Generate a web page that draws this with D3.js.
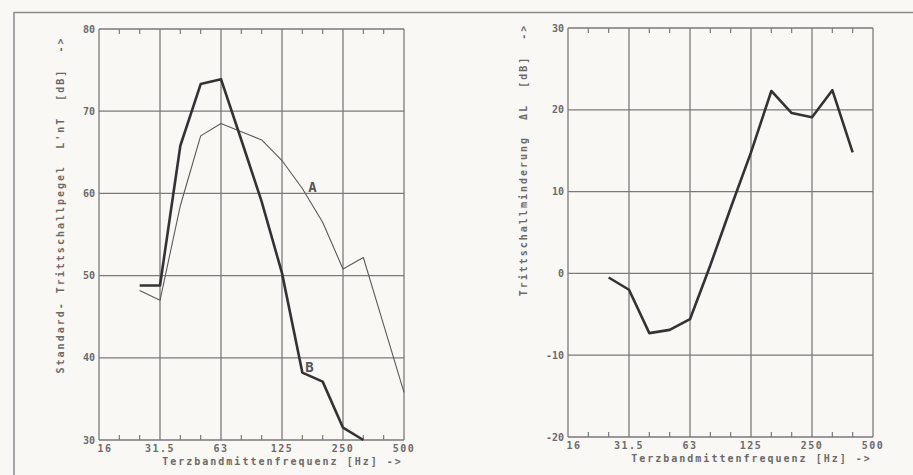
<!DOCTYPE html>
<html>
<head>
<meta charset="utf-8">
<script src="https://cdn.jsdelivr.net/npm/d3@7"></script>
<style>
  html, body { margin: 0; padding: 0; background: #faf8f5; }
  svg { display: block; }
  text { font-family: "DejaVu Sans Mono", monospace; font-weight: bold; fill: #6a6a6a; white-space: pre; }
</style>
</head>
<body>
<svg id="chart" width="913" height="475"></svg>
<script>
// third-octave band centre frequencies (x axis, evenly spaced)
const bands = ['16','20','25','31.5','40','50','63','80','100','125','160','200','250','315','400','500'];
const labelBands = ['16','31.5','63','125','250','500'];

// left panel: standard impact sound level L'nT [dB]
const bandsA = ['25','31.5','40','50','63','80','100','125','160','200','250','315','400','500'];
const levelA = [48.2, 47, 58.5, 67, 68.5, 67.5, 66.5, 64, 60.6, 56.5, 50.8, 52.2, 44, 35.8];
const bandsB = ['25','31.5','40','50','63','80','100','125','160','200','250','315'];
const levelB = [48.8, 48.8, 65.8, 73.3, 73.9, 66.5, 59, 50.3, 38.2, 37.1, 31.5, 30];
const leftTicks = [30, 40, 50, 60, 70, 80];

// right panel: impact sound reduction delta L [dB]
const bandsD = ['25','31.5','40','50','63','80','100','125','160','200','250','315','400'];
const deltaL = [-0.5, -2, -7.3, -6.9, -5.6, 1, 8, 14.8, 22.3, 19.6, 19.1, 22.4, 14.8];
const rightTicks = [-20, -10, 0, 10, 20, 30];

const svg = d3.select('#chart');

// frame of the page
svg.append('line').attr('x1', 14).attr('x2', 913).attr('y1', 12.5).attr('y2', 12.5)
  .attr('stroke', '#8a8a8a').attr('stroke-width', 1.5);
svg.append('line').attr('x1', 14).attr('x2', 14).attr('y1', 12).attr('y2', 475)
  .attr('stroke', '#8a8a8a').attr('stroke-width', 1.5);

function panel(cfg) {
  const x = d3.scalePoint().domain(bands).range([cfg.x0, cfg.x1]);
  const y = d3.scaleLinear().domain(cfg.domain).range([cfg.yb, cfg.yt]);
  const g = svg.append('g');

  // horizontal grid + y labels
  g.selectAll('.hg').data(cfg.ticks).join('line')
    .attr('x1', cfg.x0).attr('x2', cfg.x1)
    .attr('y1', d => y(d)).attr('y2', d => y(d))
    .attr('stroke', '#7a7a7a').attr('stroke-width', 1.3);
  g.selectAll('.yl').data(cfg.ticks).join('text')
    .attr('x', cfg.x0 - 4).attr('y', d => y(d) + 3.5)
    .attr('text-anchor', 'end').attr('font-size', 10)
    .text(d => d);

  // vertical grid at octave bands
  g.selectAll('.vg').data(labelBands).join('line')
    .attr('x1', d => x(d)).attr('x2', d => x(d))
    .attr('y1', cfg.yt).attr('y2', cfg.yb)
    .attr('stroke', '#7a7a7a').attr('stroke-width', 1.3);

  // minor ticks for the other bands, top and bottom
  const minor = bands.filter(b => !labelBands.includes(b));
  g.selectAll('.tt').data(minor).join('line')
    .attr('x1', d => x(d)).attr('x2', d => x(d))
    .attr('y1', cfg.yt).attr('y2', cfg.yt + 5)
    .attr('stroke', '#7a7a7a').attr('stroke-width', 1.2);
  g.selectAll('.tb').data(minor).join('line')
    .attr('x1', d => x(d)).attr('x2', d => x(d))
    .attr('y1', cfg.yb).attr('y2', cfg.yb - 5)
    .attr('stroke', '#7a7a7a').attr('stroke-width', 1.2);

  // x labels
  g.selectAll('.xl').data(labelBands).join('text')
    .attr('x', d => d === '16' ? x(d) + 6 : x(d)).attr('y', cfg.yb + 12)
    .attr('text-anchor', 'middle').attr('font-size', 10).attr('letter-spacing', 1.5)
    .text(d => d);

  g.append('text')
    .attr('x', (cfg.x0 + cfg.x1) / 2 + 31).attr('y', cfg.yb + 25)
    .attr('text-anchor', 'middle').attr('font-size', 10).attr('letter-spacing', 2)
    .text('Terzbandmittenfrequenz [Hz] ->');

  g.append('text')
    .attr('transform', `translate(${cfg.titleX},${cfg.titleY}) rotate(-90)`)
    .attr('text-anchor', 'middle').attr('font-size', 10).attr('letter-spacing', 2)
    .text(cfg.title);

  const line = d3.line().x(d => x(d[0])).y(d => y(d[1]));
  cfg.series.forEach(s => {
    g.append('path')
      .attr('d', line(d3.zip(s.bands, s.values)))
      .attr('fill', 'none').attr('stroke', s.color)
      .attr('stroke-width', s.width).attr('stroke-linejoin', 'round');
  });

  (cfg.marks || []).forEach(m => {
    g.append('text')
      .attr('x', x(m.band) + m.dx).attr('y', y(m.value))
      .attr('font-family', '"Liberation Sans", sans-serif')
      .attr('font-weight', 'bold').attr('font-size', 14)
      .style('fill', '#555')
      .text(m.text);
  });
}

panel({
  x0: 99, x1: 404, yt: 29, yb: 440, domain: [30, 80], ticks: leftTicks,
  title: "Standard- Trittschallpegel  L'nT  [dB]  ->", titleX: 64, titleY: 205,
  series: [
    { bands: bandsA, values: levelA, color: '#5a5a5a', width: 1.1 },
    { bands: bandsB, values: levelB, color: '#333', width: 2.6 }
  ],
  marks: [
    { text: 'A', band: '160', value: 60.2, dx: 6 },
    { text: 'B', band: '160', value: 38.3, dx: 3 }
  ]
});

panel({
  x0: 568, x1: 873, yt: 28, yb: 437, domain: [-20, 30], ticks: rightTicks,
  title: 'Trittschallminderung  ΔL  [dB]  ->', titleX: 527, titleY: 160,
  series: [
    { bands: bandsD, values: deltaL, color: '#333', width: 2.6 }
  ]
});
</script>
</body>
</html>
